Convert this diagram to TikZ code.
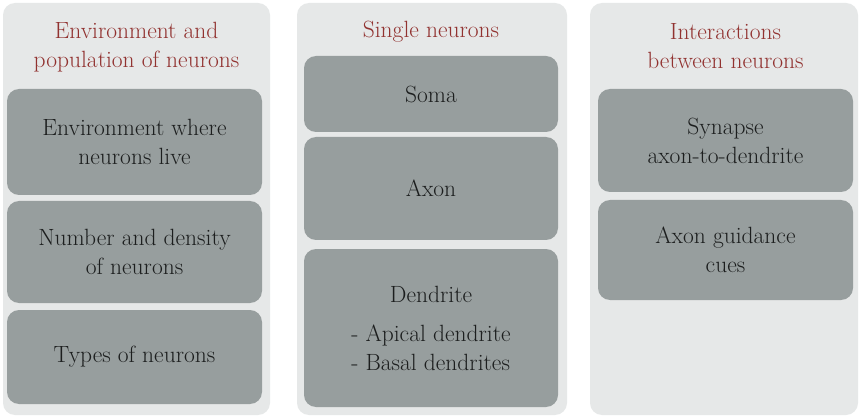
\documentclass[tikz,border=0pt]{standalone}

\definecolor{panelgray}{RGB}{230,232,232}
\definecolor{boxgray}{RGB}{151,158,158}
\definecolor{headred}{RGB}{145,50,48}
\definecolor{boxtext}{RGB}{28,30,30}

\tikzset{
    panel/.style={fill=panelgray, rounded corners=12pt, inner sep=0pt},
    item/.style={fill=boxgray, rounded corners=12pt, inner sep=0pt, align=center,
        text=boxtext, font=\fontsize{23.5}{29}\selectfont},
    heading/.style={text=headred, align=center, font=\fontsize{23.5}{29}\selectfont}
}

\begin{document}
\begin{tikzpicture}[x=1pt, y=-1pt]
    \useasboundingbox[fill=white] (0,0) rectangle (863,417);

    % Background panels
    \node[panel, minimum width=267pt, minimum height=412pt] (envpanel) at (136.5,209) {};
    \node[panel, minimum width=270pt, minimum height=412pt] (singlepanel) at (432,209) {};
    \node[panel, minimum width=268pt, minimum height=412pt] (interpanel) at (724,209) {};

    % Headings
    \node[heading] (envhead) at (136.5,47.5) {Environment and\\population of neurons};
    \node[heading] (singlehead) at (431,32) {Single neurons};
    \node[heading] (interhead) at (725.5,46) {Interactions\\between neurons};

    % Environment and population
    \node[item, minimum width=255pt, minimum height=106pt] (envlive) at (134.5,142) {Environment where\\neurons live};
    \node[item, minimum width=255pt, minimum height=102pt] (density) at (134.5,252) {Number and density\\of neurons};
    \node[item, minimum width=255pt, minimum height=94pt] (types) at (134.5,357) {Types of neurons};

    % Single neurons
    \node[item, minimum width=254pt, minimum height=76pt] (soma) at (431,94) {Soma};
    \node[item, minimum width=254pt, minimum height=103pt] (axon) at (431,188.5) {Axon};
    \node[item, minimum width=254pt, minimum height=158pt] (dendrite) at (431,328) {\rule{0pt}{26pt}Dendrite\\[10pt]
        \begin{tabular}[t]{@{}l@{}}- Apical dendrite\\- Basal dendrites\end{tabular}};

    % Interactions
    \node[item, minimum width=255pt, minimum height=103pt] (synapse) at (725.5,140.5) {Synapse\\axon-to-dendrite};
    \node[item, minimum width=255pt, minimum height=100pt] (guidance) at (725.5,250) {Axon guidance\\cues};
\end{tikzpicture}
\end{document}
